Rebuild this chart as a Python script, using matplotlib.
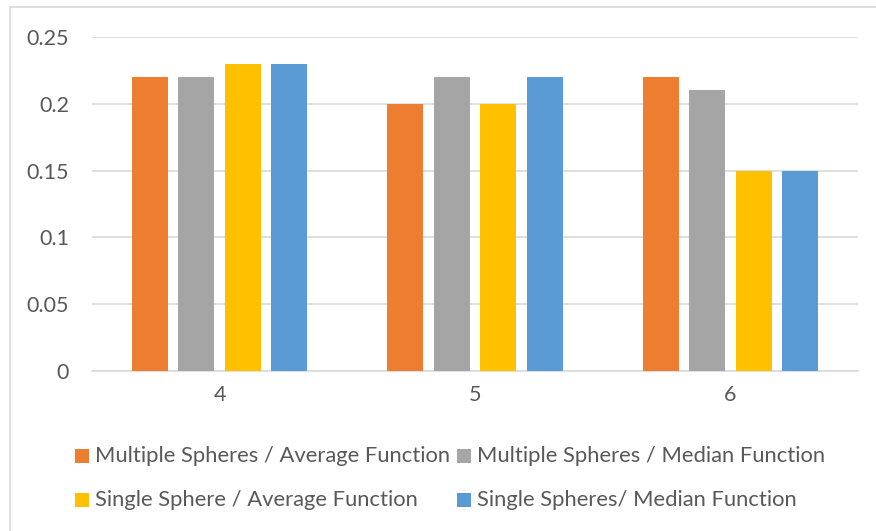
import matplotlib
matplotlib.use("Agg")
import matplotlib.pyplot as plt
from matplotlib.patches import Rectangle
import numpy as np

categories = ["4", "5", "6"]
series_names = [
    "Multiple Spheres / Average Function",
    "Multiple Spheres / Median Function",
    "Single Sphere / Average Function",
    "Single Spheres/ Median Function",
]
multi_avg = [0.22, 0.20, 0.22]
multi_med = [0.22, 0.22, 0.21]
single_avg = [0.23, 0.20, 0.15]
single_med = [0.23, 0.22, 0.15]
yticks = [0, 0.05, 0.1, 0.15, 0.2, 0.25]
ytick_labels = ["0", "0.05", "0.1", "0.15", "0.2", "0.25"]

colors = ["#ED7D31", "#A5A5A5", "#FFC000", "#5B9BD5"]
text_color = "#595959"
grid_color = "#D9D9D9"

plt.rcParams["font.family"] = ["Lato", "DejaVu Sans"]

W, H = 876, 531
fig = plt.figure(figsize=(W / 100, H / 100), dpi=100)
fig.patch.set_facecolor("white")

# chart frame
fig.patches.append(Rectangle((10 / W, -0.1), 1.2, 1 - 7 / H + 0.1,
                             transform=fig.transFigure, fill=False,
                             edgecolor=grid_color, linewidth=1.2))

ax = fig.add_axes([92 / W, 1 - 371 / H, (858 - 92) / W, (371 - 37) / H])
series = [multi_avg, multi_med, single_avg, single_med]
x = np.arange(len(categories))
step = 0.182
width = 0.141
for i, (vals, c) in enumerate(zip(series, colors)):
    ax.bar(x + (i - 1.5) * step, vals, width=width, color=c, zorder=3)

ax.set_xlim(-0.5, len(categories) - 0.5)
ax.set_ylim(0, 0.25)
ax.set_yticks(yticks)
ax.set_yticklabels(ytick_labels)
ax.set_xticks(x)
ax.set_xticklabels(categories)
ax.yaxis.grid(True, color=grid_color, linewidth=1.2, zorder=0)
for s in ["top", "right", "left"]:
    ax.spines[s].set_visible(False)
ax.spines["bottom"].set_color(grid_color)
ax.spines["bottom"].set_linewidth(1.2)
ax.tick_params(axis="both", length=0, labelsize=15.5, labelcolor=text_color)
ax.tick_params(axis="y", pad=16.5)
ax.tick_params(axis="x", pad=10)

# legend in two rows of two entries
legend_pos = [(75, 456), (457, 456), (75, 500), (457, 500)]
sq = 14
for name, c, (lx, ly) in zip(series_names, colors, legend_pos):
    fig.patches.append(Rectangle((lx / W, 1 - (ly + sq / 2) / H), sq / W, sq / H,
                                 transform=fig.transFigure, facecolor=c,
                                 edgecolor="none"))
    fig.text((lx + sq + 6) / W, 1 - ly / H, name, fontsize=15.8,
             color=text_color, va="center", ha="left")

fig.savefig("out.png", dpi=100)
